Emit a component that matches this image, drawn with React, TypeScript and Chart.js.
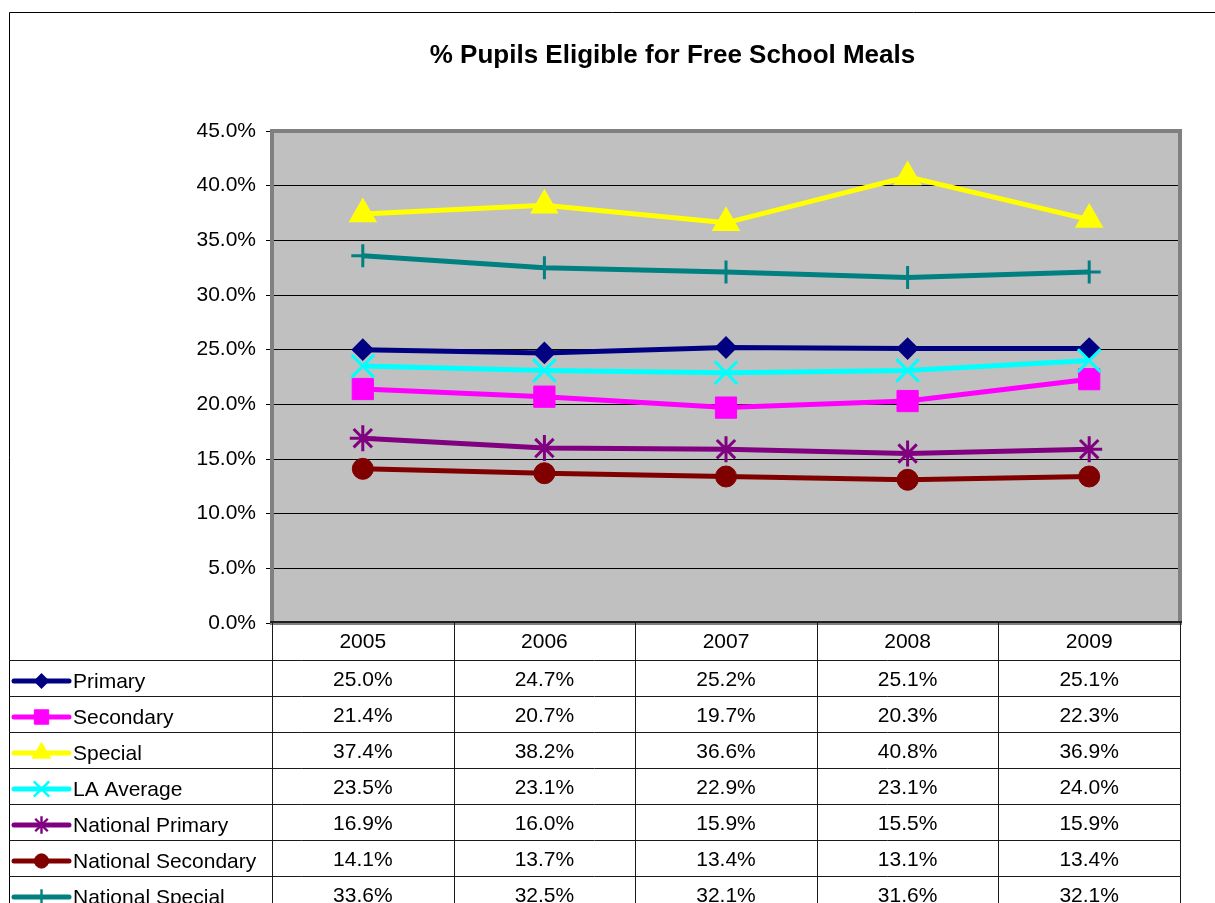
import React, { useEffect, useRef } from 'react';
import { Chart, registerables } from 'chart.js';

Chart.register(...registerables);

// ---------- data ----------
const years = ['2005', '2006', '2007', '2008', '2009'];
const primary = [25.0, 24.7, 25.2, 25.1, 25.1];
const secondary = [21.4, 20.7, 19.7, 20.3, 22.3];
const special = [37.4, 38.2, 36.6, 40.8, 36.9];
const laAverage = [23.5, 23.1, 22.9, 23.1, 24.0];
const nationalPrimary = [16.9, 16.0, 15.9, 15.5, 15.9];
const nationalSecondary = [14.1, 13.7, 13.4, 13.1, 13.4];
const nationalSpecial = [33.6, 32.5, 32.1, 31.6, 32.1];
const seriesLabels = ['Primary', 'Secondary', 'Special', 'LA Average', 'National Primary', 'National Secondary', 'National Special'];
const seriesValues = [primary, secondary, special, laAverage, nationalPrimary, nationalSecondary, nationalSpecial];
const yMin = 0;
const yMax = 45;
const yStep = 5;
const titleText = '% Pupils Eligible for Free School Meals';

// ---------- styles ----------
const FONT = '"Liberation Sans", Arial, sans-serif';
const seriesStyles = [
  { color: '#000080', point: 'rectRot', radius: 10, pbw: 2 },
  { color: '#FF00FF', point: 'rect', radius: 15, pbw: 1 },
  { color: '#FFFF00', point: 'triangle', radius: 14.5, pbw: 2 },
  { color: '#00FFFF', point: 'crossRot', radius: 16, pbw: 3 },
  { color: '#800080', point: 'star', radius: 13, pbw: 3 },
  { color: '#800000', point: 'circle', radius: 10.5, pbw: 1 },
  { color: '#008080', point: 'cross', radius: 11.5, pbw: 3 },
];

const fmt = (v: number) => v.toFixed(1) + '%';

function drawMarker(ctx: CanvasRenderingContext2D, style: string, x: number, y: number, r: number, color: string, lw: number) {
  ctx.save();
  ctx.fillStyle = color;
  ctx.strokeStyle = color;
  ctx.lineWidth = lw;
  ctx.beginPath();
  const h = Math.SQRT1_2 * r;
  switch (style) {
    case 'rectRot':
      ctx.moveTo(x - r, y); ctx.lineTo(x, y - r); ctx.lineTo(x + r, y); ctx.lineTo(x, y + r); ctx.closePath();
      ctx.fill(); ctx.stroke();
      break;
    case 'rect':
      ctx.rect(x - h, y - h, 2 * h, 2 * h);
      ctx.fill(); ctx.stroke();
      break;
    case 'triangle': {
      const s = Math.sqrt(3) / 2;
      ctx.moveTo(x, y - r); ctx.lineTo(x + s * r, y + r / 2); ctx.lineTo(x - s * r, y + r / 2); ctx.closePath();
      ctx.fill(); ctx.stroke();
      break;
    }
    case 'circle':
      ctx.arc(x, y, r, 0, Math.PI * 2);
      ctx.fill(); ctx.stroke();
      break;
    case 'crossRot':
      ctx.moveTo(x - h, y - h); ctx.lineTo(x + h, y + h); ctx.moveTo(x - h, y + h); ctx.lineTo(x + h, y - h);
      ctx.stroke();
      break;
    case 'star':
      ctx.moveTo(x - h, y - h); ctx.lineTo(x + h, y + h); ctx.moveTo(x - h, y + h); ctx.lineTo(x + h, y - h);
      ctx.moveTo(x, y - r); ctx.lineTo(x, y + r);
      ctx.stroke();
      break;
    case 'cross':
      ctx.moveTo(x - r, y); ctx.lineTo(x + r, y); ctx.moveTo(x, y - r); ctx.lineTo(x, y + r);
      ctx.stroke();
      break;
  }
  ctx.restore();
}

const plotBackground = {
  id: 'plotBackground',
  beforeDraw(chart: any) {
    const { ctx, chartArea: ca } = chart;
    ctx.save();
    ctx.fillStyle = '#FFFFFF';
    ctx.fillRect(0, 0, chart.width, chart.height);
    ctx.fillStyle = '#C0C0C0';
    ctx.fillRect(ca.left, ca.top, ca.right - ca.left, ca.bottom - ca.top);
    ctx.restore();
  },
  beforeDatasetsDraw(chart: any) {
    const { ctx, chartArea: ca } = chart;
    ctx.save();
    ctx.strokeStyle = '#808080';
    ctx.lineWidth = 4;
    ctx.strokeRect(ca.left, ca.top, ca.right - ca.left, ca.bottom - ca.top);
    ctx.strokeStyle = '#202020';
    ctx.lineWidth = 2;
    ctx.beginPath();
    ctx.moveTo(ca.left - 2, ca.bottom - 1);
    ctx.lineTo(ca.right + 2, ca.bottom - 1);
    ctx.stroke();
    ctx.restore();
  },
};

const tableAndTitle = {
  id: 'tableAndTitle',
  afterDraw(chart: any) {
    const { ctx, chartArea: ca } = chart;
    const W = chart.width;
    const H = chart.height;
    const outerLeft = 9;
    const outerTop = 12;
    const headerTop = ca.bottom;
    const headerH = 37;
    const rowH = 36;
    const tableTop = headerTop + headerH;
    const n = years.length;
    const colW = (ca.right - ca.left) / n;
    const px = (v: number) => Math.round(v) + 0.5;

    ctx.save();
    // outer chart border
    ctx.strokeStyle = '#000000';
    ctx.lineWidth = 1;
    ctx.beginPath();
    ctx.moveTo(px(outerLeft), H);
    ctx.lineTo(px(outerLeft), px(outerTop));
    ctx.lineTo(W, px(outerTop));
    ctx.stroke();

    // title
    ctx.fillStyle = '#000000';
    ctx.font = 'bold 26px ' + FONT;
    ctx.textAlign = 'center';
    ctx.textBaseline = 'alphabetic';
    ctx.fillText(titleText, 672.5, 63);

    // table grid
    ctx.strokeStyle = '#1a1a1a';
    ctx.lineWidth = 1;
    ctx.beginPath();
    for (let c = 0; c <= n; c++) {
      const x = px(ca.left + c * colW);
      ctx.moveTo(x, headerTop);
      ctx.lineTo(x, H);
    }
    for (let r = 0; r <= seriesLabels.length; r++) {
      const y = px(tableTop + r * rowH);
      if (y > H) break;
      ctx.moveTo(outerLeft, y);
      ctx.lineTo(ca.right, y);
    }
    ctx.stroke();

    // header labels
    ctx.font = '21px ' + FONT;
    ctx.textAlign = 'center';
    const xs = chart.scales.x;
    years.forEach((yr, i) => {
      ctx.fillText(yr, xs.getPixelForValue(i), headerTop + 25);
    });

    // rows
    seriesLabels.forEach((label, r) => {
      const top = tableTop + r * rowH;
      const st = seriesStyles[r];
      // legend key
      ctx.save();
      ctx.strokeStyle = st.color;
      ctx.lineWidth = 5;
      ctx.lineCap = 'round';
      ctx.beginPath();
      ctx.moveTo(14, top + 21);
      ctx.lineTo(69, top + 21);
      ctx.stroke();
      ctx.restore();
      drawMarker(ctx, st.point, 41.5, top + 21, st.radius * 0.68, st.color, Math.max(1, st.pbw * 0.8));
      ctx.fillStyle = '#000000';
      ctx.textAlign = 'left';
      ctx.fillText(label, 73, top + 28);
      ctx.textAlign = 'center';
      seriesValues[r].forEach((v, i) => {
        ctx.fillText(fmt(v), xs.getPixelForValue(i), top + 26);
      });
    });
    ctx.restore();
  },
};

export default function App() {
  const ref = useRef<HTMLCanvasElement>(null);
  useEffect(() => {
    if (!ref.current) return;
    const datasets = seriesLabels.map((label, i) => {
      const st = seriesStyles[i];
      return {
        label,
        data: seriesValues[i],
        borderColor: st.color,
        backgroundColor: st.color,
        borderWidth: 5,
        pointStyle: st.point as any,
        pointRadius: st.radius,
        pointHoverRadius: st.radius,
        pointBorderWidth: st.pbw,
        pointBackgroundColor: st.color,
        pointBorderColor: st.color,
        tension: 0,
        fill: false,
        order: seriesLabels.length - i,
      };
    });
    const chart = new Chart(ref.current, {
      type: 'line',
      data: { labels: years, datasets },
      plugins: [plotBackground, tableAndTitle],
      options: {
        responsive: false,
        animation: false,
        devicePixelRatio: 1,
        layout: { padding: { left: 0, top: 131, right: 35, bottom: 280 } },
        plugins: {
          legend: { display: false },
          title: { display: false },
          tooltip: { enabled: false },
        },
        scales: {
          x: {
            type: 'category',
            offset: true,
            display: false,
          },
          y: {
            min: yMin,
            max: yMax,
            afterFit: (s: any) => { s.width = 272; },
            ticks: {
              stepSize: yStep,
              callback: (v: any) => fmt(Number(v)),
              color: '#000000',
              font: { family: FONT, size: 21 },
              padding: 10,
            },
            grid: { color: '#000000', lineWidth: 1, tickLength: 6, drawTicks: true },
            border: { display: false },
          },
        },
      },
    });
    return () => chart.destroy();
  }, []);
  return (
    <div style={{ position: 'absolute', left: 0, top: 0, width: 1215, height: 903, overflow: 'hidden' }}>
      <canvas ref={ref} width={1215} height={903} style={{ display: 'block', width: 1215, height: 903 }} />
    </div>
  );
}
